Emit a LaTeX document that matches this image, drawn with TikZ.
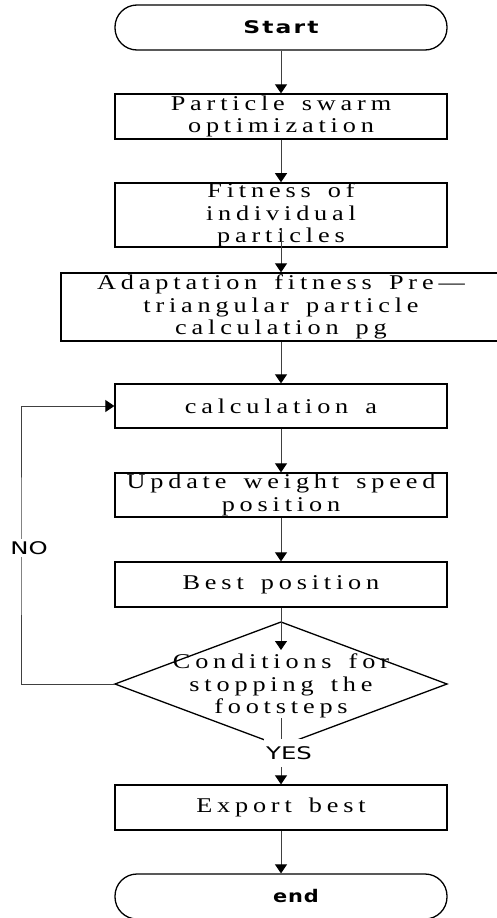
\documentclass[tikz,border=0pt]{standalone}
\usepackage{fontspec}
\setmainfont{Liberation Serif}
\newfontfamily\boxfont[FakeStretch=1.25,LetterSpace=23,WordSpace=1.5]{Liberation Serif}
\newfontfamily\startfont[FakeStretch=1.35,LetterSpace=12]{DejaVu Sans}
\newfontfamily\endfont[FakeStretch=1.2,LetterSpace=5]{DejaVu Sans}
\newfontfamily\lblfont[FakeStretch=1.4]{DejaVu Sans}
\usetikzlibrary{arrows.meta}
\tikzset{
  boxnode/.style={draw, line width=1.3pt, minimum width=332pt, inner sep=0pt, align=center,
    font=\boxfont\fontsize{21}{22.5}\selectfont},
  termnode/.style={draw, line width=1.3pt, rounded corners=22pt, minimum width=332pt,
    minimum height=45pt, inner sep=0pt},
  dtext/.style={inner sep=0pt, align=center, font=\boxfont\fontsize{21}{22.5}\selectfont},
  conn/.style={line width=0.9pt, draw=black!75, -{Triangle[length=9pt,width=12pt,color=black]}},
  lbl/.style={fill=white, inner xsep=2pt, font=\lblfont\fontsize{17.4}{20}\selectfont},
}
\begin{document}
\begin{tikzpicture}[x=1pt,y=-1pt]
\useasboundingbox (0,0) rectangle (497,918);
% nodes
\node[termnode, font=\startfont\bfseries\fontsize{17.4}{20}\selectfont] (start) at (281,27.5) {Start};
\node[boxnode, minimum height=45pt] (b1) at (281,116.5) {Particle swarm\\optimization};
\node[boxnode, minimum height=64pt] (b2) at (281,215) {Fitness of\\individual\\particles};
\node[boxnode, minimum height=68pt, minimum width=440pt] (b3) at (281,307) {Adaptation fitness Pre—\\triangular particle\\calculation pg};
\node[boxnode, minimum height=44pt] (b4) at (281,406) {calculation a};
\node[boxnode, minimum height=44pt] (b5) at (281,495) {Update weight speed\\position};
\node[boxnode, minimum height=45pt] (b6) at (281,584.5) {Best position};
% decision
\coordinate (dtop) at (281,622);
\coordinate (dright) at (447,684);
\coordinate (dbot) at (281,746);
\coordinate (dleft) at (115,684);
\draw[line width=1.3pt] (dtop) -- (dright) -- (dbot) -- (dleft) -- cycle;
\node[dtext] (dec) at (281,686) {Conditions for\\stopping the\\footsteps};
\node[boxnode, minimum height=45pt] (ex) at (281,807.5) {Export best};
\node[termnode, font=\endfont\bfseries\fontsize{17.4}{20}\selectfont] (end) at (281,896.5) {\hspace*{30pt}end};
% connectors
\draw[conn] (start.south) -- (b1.north);
\draw[conn] (b1.south) -- (b2.north);
\coordinate (c2) at (281,228);
\draw[conn] (c2) -- (b3.north);
\draw[conn] (b3.south) -- (b4.north);
\draw[conn] (b4.south) -- (b5.north);
\draw[conn] (b5.south) -- (b6.north);
\coordinate (din) at (281,650);
\draw[conn] (b6.south) -- (din);
\coordinate (dout) at (281,718);
\draw[conn] (dout) -- (ex.north);
\node[lbl, inner ysep=7pt] (yes) at (289,753) {YES};
\coordinate (lp) at (21,547);
\draw[conn] (dleft) -| (lp) |- (b4.west);
\node[lbl, inner ysep=2pt] (no) at (29,548) {NO};
\draw[conn] (ex.south) -- (end.north);
\end{tikzpicture}
\end{document}
